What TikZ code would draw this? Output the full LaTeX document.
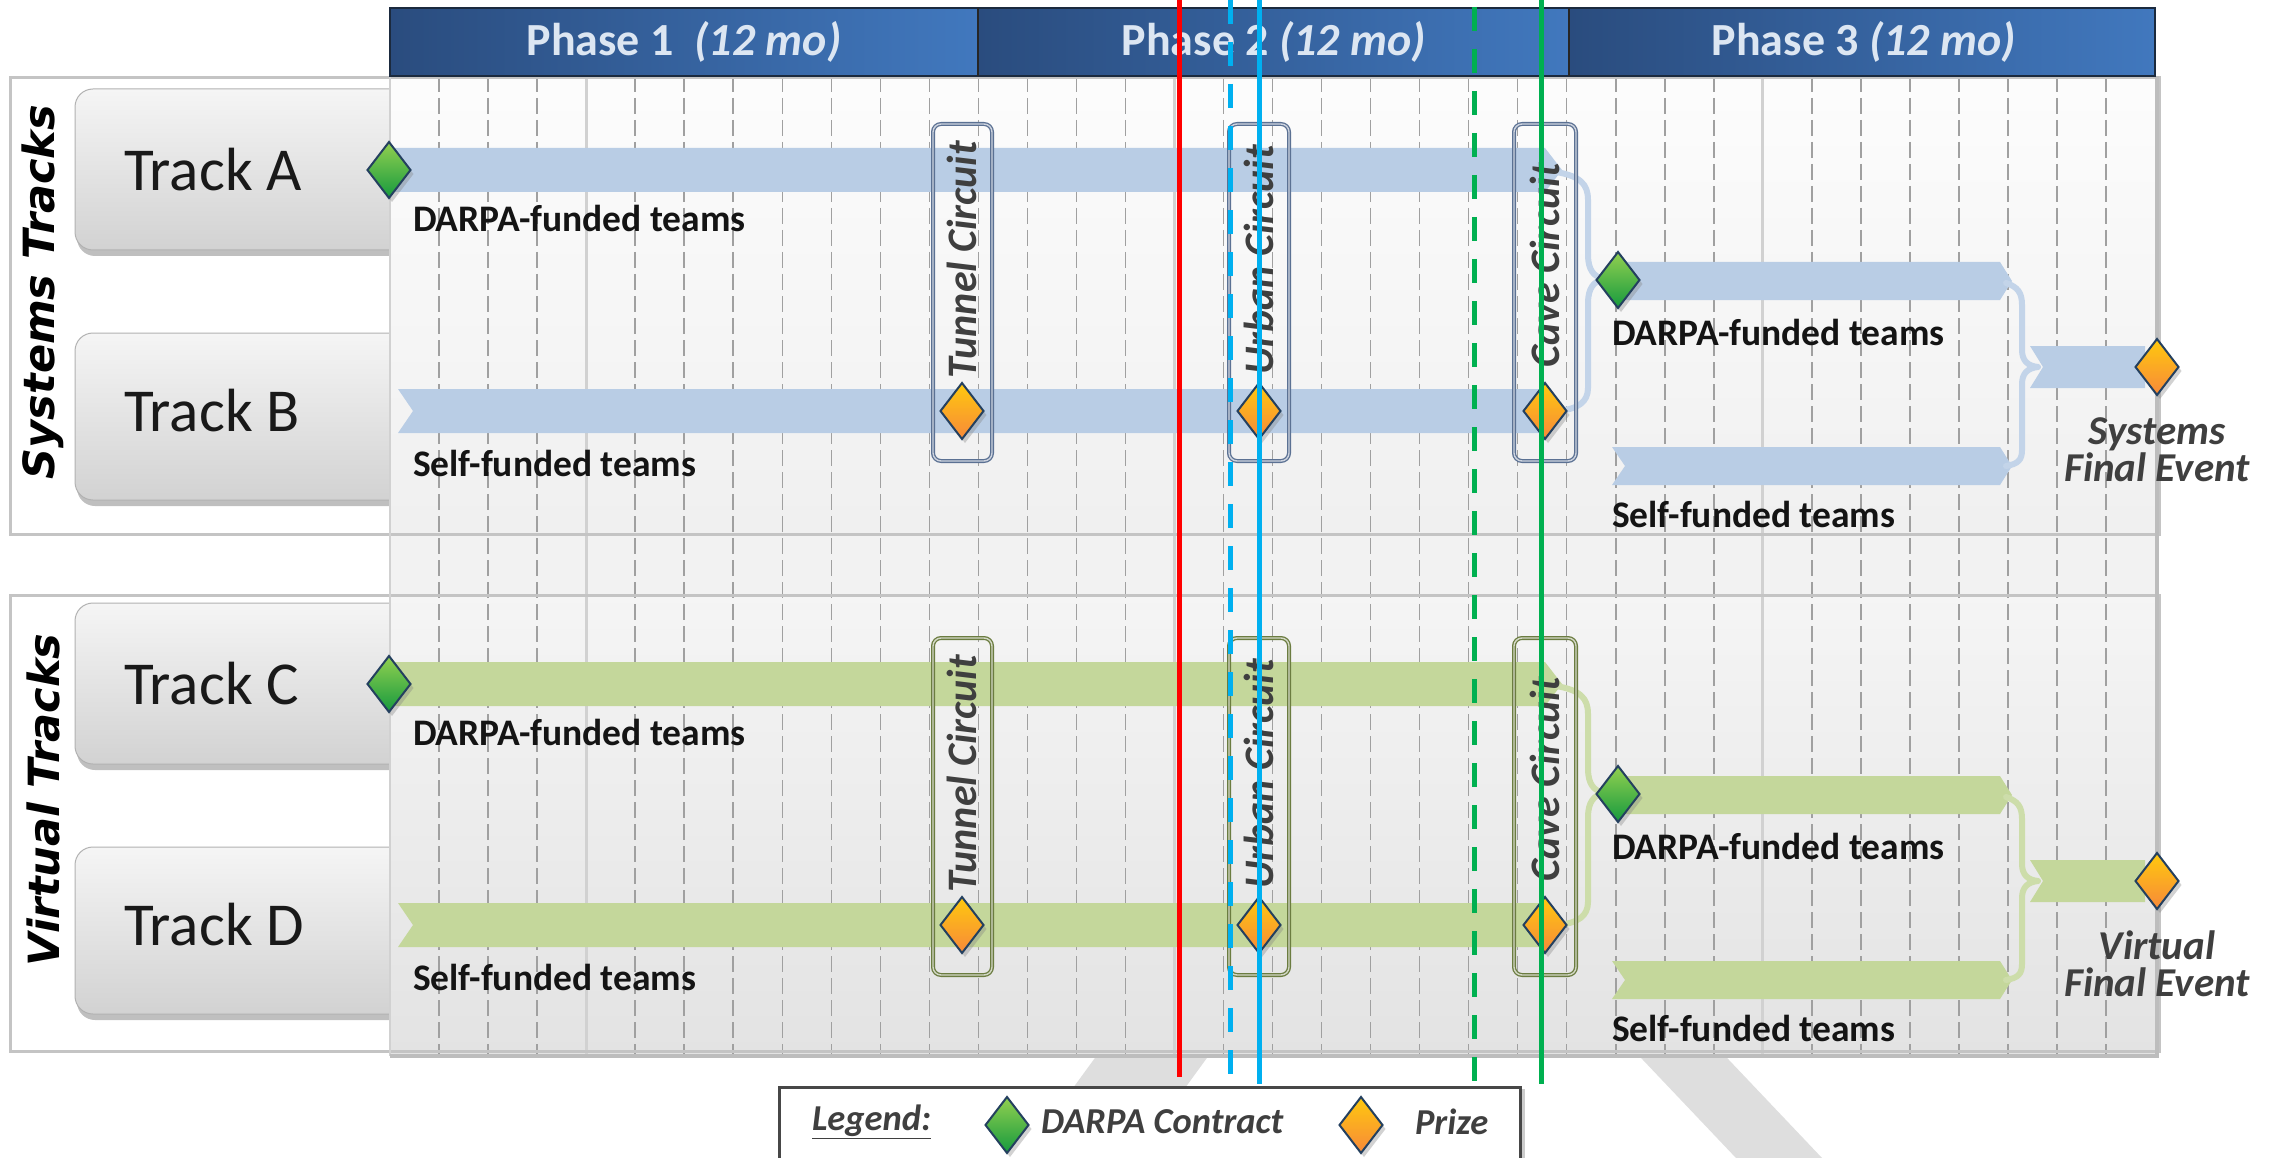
\documentclass[tikz,border=0pt]{standalone}
\usepackage{fontspec}
\setmainfont{Carlito}
\newfontfamily\secfont{DejaVu Sans}
\usetikzlibrary{shapes.geometric,shadows}

\definecolor{hdrA}{HTML}{2A4C7E}
\definecolor{hdrB}{HTML}{4178BE}
\definecolor{hdrtxt}{HTML}{DCE6F2}
\definecolor{hdrline}{HTML}{1B2A3E}
\definecolor{barblue}{HTML}{B9CDE5}
\definecolor{bargreen}{HTML}{C4D79B}
\definecolor{circblue}{HTML}{5B7193}
\definecolor{circgreen}{HTML}{6B7C40}
\definecolor{txtgray}{HTML}{3F3F3F}
\definecolor{gridgray}{HTML}{A0A0A0}
\definecolor{boxgray}{HTML}{C4C4C4}
\definecolor{tbA}{HTML}{F5F5F5}
\definecolor{tbB}{HTML}{D2D2D2}
\definecolor{dmgreenA}{HTML}{92D050}
\definecolor{dmgreenB}{HTML}{169A3E}
\definecolor{dmorA}{HTML}{FFC90E}
\definecolor{dmorB}{HTML}{F7893A}
\definecolor{dmedge}{HTML}{24405F}
\definecolor{vblue}{HTML}{00B0F0}
\definecolor{vgreen}{HTML}{00B050}
\definecolor{wmark}{HTML}{DEDEDE}

\tikzset{
  every node/.style={inner sep=0pt, outer sep=0pt},
  dmd/.style={diamond, minimum width=43pt, minimum height=56pt, draw=dmedge, line width=2pt,
    drop shadow={opacity=0.35, shadow xshift=3pt, shadow yshift=-4pt}},
  contract/.style={dmd, top color=dmgreenA, bottom color=dmgreenB},
  prize/.style={dmd, top color=dmorA, bottom color=dmorB},
  tracklbl/.style={anchor=west, font=\fontsize{61}{61}\selectfont, text=black!90},
  teamlbl/.style={anchor=west, font=\fontsize{37.5}{37.5}\selectfont\bfseries, text=black!92},
  circtxt/.style={rotate=90, font=\fontsize{42}{42}\selectfont\bfseries\itshape, text=txtgray},
  evlbl/.style={align=center, font=\fontsize{41}{37}\selectfont\bfseries\itshape, text=txtgray},
  phasetxt/.style={font=\fontsize{46}{46}\selectfont\bfseries, text=hdrtxt},
  sectitle/.style={rotate=90, font=\secfont\fontsize{43}{43}\selectfont\bfseries\itshape, text=black},
  legtxt/.style={anchor=west, font=\fontsize{36.5}{36.5}\selectfont\bfseries\itshape, text=txtgray},
  circbox/.style={rounded corners=8pt, draw=#1, line width=1.3pt, double=#1!30!white, double distance=1.4pt},
  trackbox/.style={rounded corners=18pt, top color=tbA, bottom color=tbB, draw=black!30, line width=1pt,
    drop shadow={opacity=0.5, shadow xshift=2pt, shadow yshift=-6pt}},
  dashgrid/.style={draw=gridgray, line width=1.5pt, dash pattern=on 16pt off 6pt},
  solidgrid/.style={draw=black!18, line width=3pt},
  bracepath/.style={draw=#1, line width=6pt, line cap=round, line join=round},
  vline/.style={line width=5pt},
}

\newcommand\trackgroup[5]{%
\begin{scope}[yshift=#5]
  % phase 1-2 bars
  \fill[#2] (392,148) -- (1545,148) -- (1562,170) -- (1545,192) -- (392,192) -- cycle;
  \fill[#2] (398,389) -- (1545,389) -- (1562,411) -- (1545,433) -- (398,433) -- (413,411) -- cycle;
  \draw[bracepath=#2!85!white] (1556,172) .. controls (1580,176) and (1588,184) .. (1588,200)
     -- (1588,255) .. controls (1588,270) and (1594,277) .. (1604,279)
     .. controls (1594,281) and (1588,288) .. (1588,303)
     -- (1588,388) .. controls (1588,402) and (1578,409) .. (1558,411);
  % phase 3 bars
  \fill[#2] (1619,262) -- (2000,262) -- (2012,281) -- (2000,300) -- (1619,300) -- cycle;
  \fill[#2] (1612,447) -- (2000,447) -- (2012,466) -- (2000,485) -- (1612,485) -- (1625,466) -- cycle;
  \draw[bracepath=#2!85!white] (2006,283) .. controls (2018,287) and (2022,293) .. (2022,305)
     -- (2022,350) .. controls (2022,361) and (2028,366) .. (2038,367)
     .. controls (2028,368) and (2022,373) .. (2022,384)
     -- (2022,450) .. controls (2022,460) and (2018,464) .. (2006,466);
  \fill[#2] (2030,346) -- (2145,346) -- (2145,388) -- (2030,388) -- (2043,367) -- cycle;
  % circuit boxes
  \draw[circbox=#3] (933,124) rectangle (992,461);
  \draw[circbox=#3] (1229,124) rectangle (1289,461);
  \draw[circbox=#3] (1514,124) rectangle (1576,461);
  \node[circtxt] (#1tun) at (962,260) {Tunnel Circuit};
  \node[circtxt] (#1urb) at (1259,260) {Urban Circuit};
  \node[circtxt] (#1cav) at (1545,265) {Cave Circuit};
  % diamonds
  \node[contract] (#1start) at (389,170) {};
  \node[prize] (#1pa) at (962,411) {};
  \node[prize] (#1pb) at (1259,411) {};
  \node[prize] (#1pc) at (1545,411) {};
  \node[contract] (#1start3) at (1618,280) {};
  \node[prize] (#1fin) at (2157,367) {};
  % labels
  \node[teamlbl] (#1la) at (413,218) {DARPA-funded teams};
  \node[teamlbl] (#1lb) at (413,463) {Self-funded teams};
  \node[teamlbl] (#1lc) at (1612,332) {DARPA-funded teams};
  \node[teamlbl] (#1ld) at (1612,514) {Self-funded teams};
  \node[evlbl] (#1ev) at (2157,450) {#4\\Final Event};
\end{scope}}

\begin{document}
\begin{tikzpicture}[x=1pt, y=-1pt]
\useasboundingbox (0,0) rectangle (2277,1158);
\fill[white] (0,0) rectangle (2277,1158);

% watermark bands
\fill[wmark] (1108,1040) -- (1220,1040) -- (1134,1158) -- (1022,1158) -- cycle;
\fill[wmark] (1624,1040) -- (1710,1040) -- (1822,1158) -- (1736,1158) -- cycle;

% section boxes
\fill[white] (10,78) rectangle (2159,534);
\fill[white] (10,595) rectangle (2159,1051);

% track boxes
\path[trackbox] (75,89) rectangle (430,250);
\path[trackbox] (75,333) rectangle (430,500);
\path[trackbox] (75,603) rectangle (430,764);
\path[trackbox] (75,847) rectangle (430,1014);

% grid background
\shade[top color=black!1, bottom color=black!6] (390,76) rectangle (2157,534);
\fill[black!5] (390,534) rectangle (2157,595);
\shade[top color=black!4, bottom color=black!11] (390,595) rectangle (2157,1056);
\foreach \m in {1,2,3,5,6,...,15,17,18,...,27,29,30,...,35}
  \draw[dashgrid] ({390+\m*49.03},76) -- ({390+\m*49.03},1056);
\foreach \m in {4,16,28}
  \draw[solidgrid] ({390+\m*49.03},76) -- ({390+\m*49.03},1056);

% outlines
\draw[boxgray, line width=3pt] (10,78) rectangle (2159,534);
\draw[boxgray, line width=3pt] (10,595) rectangle (2159,1051);
\draw[black!18, line width=1.5pt] (390,76) -- (390,1056);
\draw[black!26, line width=4pt] (390,1056) -- (2157,1056) -- (2157,76);

% header
\shade[left color=hdrA, right color=hdrB] (390,8) rectangle (978,76);
\shade[left color=hdrA, right color=hdrB] (978,8) rectangle (1569,76);
\shade[left color=hdrA, right color=hdrB] (1569,8) rectangle (2155,76);
\draw[hdrline, line width=2pt] (390,8) rectangle (2155,76);
\draw[black!85, line width=2pt] (978,8) -- (978,76);
\draw[black!85, line width=2pt] (1569,8) -- (1569,76);
\node[phasetxt] (ph1) at (684,42) {Phase 1\hspace{0.45em}\textit{(12 mo)}};
\node[phasetxt] (ph2) at (1274,42) {Phase 2 \textit{(12 mo)}};
\node[phasetxt] (ph3) at (1864,42) {Phase 3 \textit{(12 mo)}};

% section titles and track labels
\node[sectitle] (sysT) at (43,292) {Systems Tracks};
\node[sectitle] (virT) at (43,800) {Virtual Tracks};
\node[tracklbl] (tA) at (124,170) {Track A};
\node[tracklbl] (tB) at (124,411) {Track B};
\node[tracklbl] (tC) at (124,684) {Track C};
\node[tracklbl] (tD) at (124,925) {Track D};

% track groups
\trackgroup{s}{barblue}{circblue}{Systems}{0pt}
\trackgroup{v}{bargreen}{circgreen}{Virtual}{-514pt}

% legend
\path[draw=black!72, line width=3pt, fill=white,
  drop shadow={opacity=0.4, shadow xshift=5pt, shadow yshift=-2pt}] (779,1087) rectangle (1520,1180);
\node[legtxt] (lg) at (812,1122) {\underline{Legend:}};
\node[contract] (lgC) at (1007,1125) {};
\node[legtxt] (lgCt) at (1041,1122) {DARPA Contract};
\node[prize] (lgP) at (1361,1125) {};
\node[legtxt] (lgPt) at (1415,1122) {Prize};

% coloured vertical marker lines
\coordinate (rT) at (1179,0);  \coordinate (rB) at (1179,1077);
\coordinate (bdT) at (1230,0); \coordinate (bdB) at (1230,1084);
\coordinate (bsT) at (1259,0); \coordinate (bsB) at (1259,1084);
\coordinate (gdT) at (1474,7); \coordinate (gdB) at (1474,1093);
\coordinate (gsT) at (1541,0); \coordinate (gsB) at (1541,1084);
\draw[vline, red] (rT) -- (rB);
\draw[vline, vblue, dash pattern=on 24pt off 18pt] (bdT) -- (bdB);
\draw[vline, vblue] (bsT) -- (bsB);
\draw[vline, vgreen, dash pattern=on 24pt off 18pt] (gdT) -- (gdB);
\draw[vline, vgreen] (gsT) -- (gsB);
\end{tikzpicture}
\end{document}
